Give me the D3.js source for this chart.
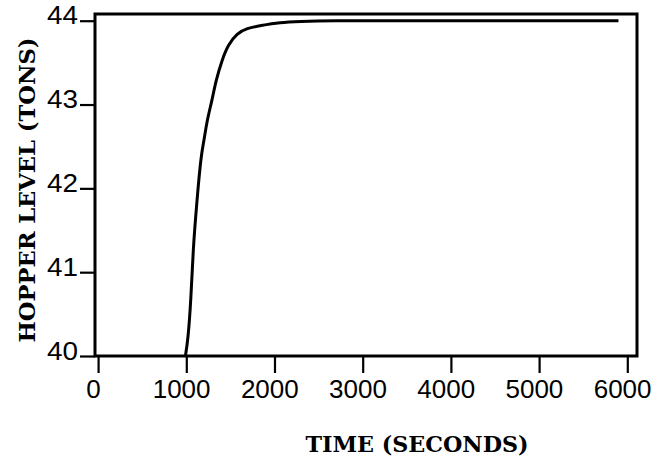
<!DOCTYPE html>
<html>
<head>
<meta charset="utf-8">
<script src="https://cdn.jsdelivr.net/npm/d3@7"></script>
<style>
  body { margin: 0; background: #fff; }
  svg { display: block; }
</style>
</head>
<body>
<div id="chart"></div>
<script>
// values
const times = [990, 1019, 1053, 1076, 1121, 1167, 1201, 1235, 1292, 1337, 1405, 1473, 1575, 1688, 1836, 2063, 2289, 2600, 3500, 4500, 5900];
const levels = [40.0, 40.19, 40.67, 41.26, 41.86, 42.39, 42.57, 42.81, 43.05, 43.29, 43.53, 43.71, 43.85, 43.91, 43.94, 43.98, 43.99, 44.0, 44.0, 44.0, 44.0];
const xTicks = [0, 1000, 2000, 3000, 4000, 5000, 6000];
const yTicks = [40, 41, 42, 43, 44];
const xTitle = "TIME (SECONDS)";
const yTitle = "HOPPER LEVEL (TONS)";

//size
const width = 672;
const height = 461;
const margin = { top: 14, bottom: 105, left: 95, right: 35 };

const data = times.map((t, i) => ({ t: t, v: levels[i] }));

//scale
const xScale = d3.scaleLinear()
  .domain([-35, 6110])
  .range([margin.left, width - margin.right]);

const yScale = d3.scaleLinear()
  .domain([40, 44.08])
  .range([height - margin.bottom, margin.top]);

const svg = d3.select("#chart")
  .append("svg")
  .attr("width", width)
  .attr("height", height);

// frame
svg.append("rect")
  .attr("x", margin.left)
  .attr("y", margin.top)
  .attr("width", width - margin.left - margin.right)
  .attr("height", height - margin.top - margin.bottom)
  .attr("fill", "none")
  .attr("stroke", "#000")
  .attr("stroke-width", 3);

// x axis
svg.append("g")
  .attr("transform", `translate(0,${height - margin.bottom})`)
  .call(d3.axisBottom(xScale).tickValues(xTicks).tickFormat(d3.format("d")).tickSize(17).tickPadding(7))
  .call((g) => {
    g.select(".domain").remove();
    g.selectAll("line").attr("stroke", "#000").attr("stroke-width", 2.2);
    g.selectAll("text")
      .attr("fill", "#000")
      .attr("dx", "-0.2em")
      .attr("font-family", "Liberation Sans, Arial, sans-serif")
      .attr("font-size", 26);
  });

// y axis
svg.append("g")
  .attr("transform", `translate(${margin.left},0)`)
  .call(d3.axisLeft(yScale).tickValues(yTicks).tickFormat(d3.format("d")).tickSize(15).tickPadding(2))
  .call((g) => {
    g.select(".domain").remove();
    g.selectAll("line").attr("stroke", "#000").attr("stroke-width", 2.2);
    g.selectAll("text")
      .attr("fill", "#000")
      .attr("dy", "0.12em")
      .attr("font-family", "Liberation Sans, Arial, sans-serif")
      .attr("font-size", 25)
      .attr("textLength", 31)
      .attr("lengthAdjust", "spacingAndGlyphs");
  });

// curve (smoothed through the read points)
const line = d3.line()
  .x((d) => xScale(d.t))
  .y((d) => yScale(d.v))
  .curve(d3.curveBasis);

svg.append("path")
  .datum(data)
  .attr("d", line)
  .attr("fill", "none")
  .attr("stroke", "#000")
  .attr("stroke-width", 3);

// titles
svg.append("text")
  .attr("x", 417)
  .attr("y", 452)
  .attr("text-anchor", "middle")
  .attr("font-family", "DejaVu Serif, Liberation Serif, serif")
  .attr("font-weight", "bold")
  .attr("font-size", 23)
  .attr("textLength", 223)
  .attr("lengthAdjust", "spacingAndGlyphs")
  .text(xTitle);

svg.append("text")
  .attr("transform", "translate(35,190) rotate(-90)")
  .attr("text-anchor", "middle")
  .attr("font-family", "DejaVu Serif, Liberation Serif, serif")
  .attr("font-weight", "bold")
  .attr("font-size", 23)
  .attr("textLength", 305)
  .attr("lengthAdjust", "spacingAndGlyphs")
  .text(yTitle);
</script>
</body>
</html>
